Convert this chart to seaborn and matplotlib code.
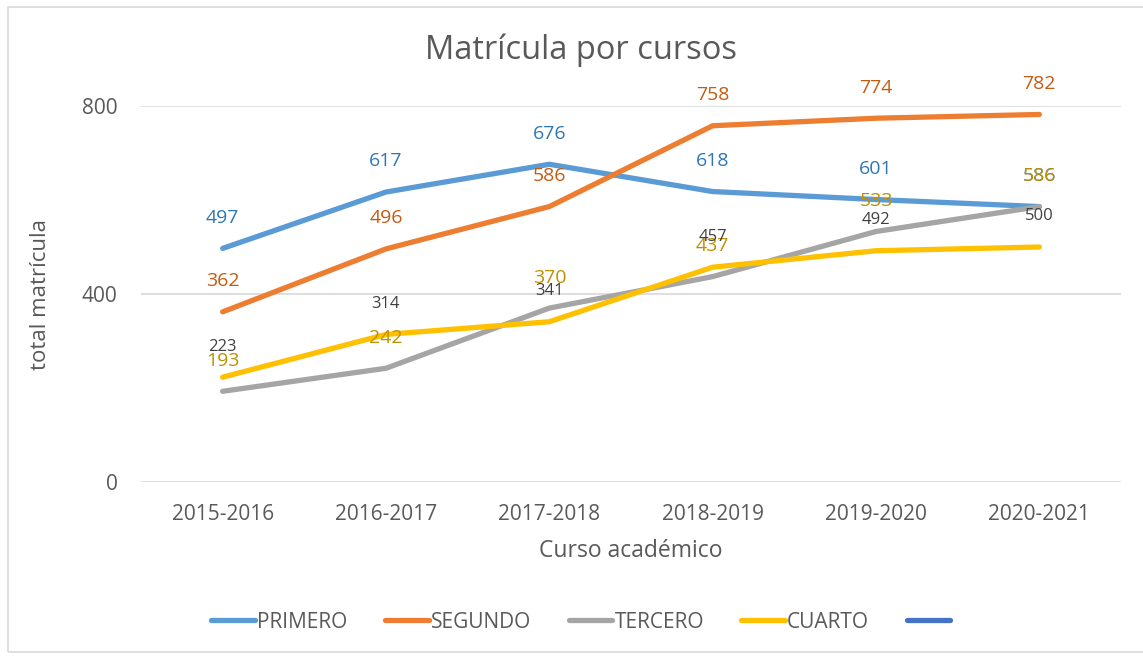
import matplotlib
matplotlib.use("Agg")
import matplotlib.pyplot as plt
from matplotlib.lines import Line2D
from matplotlib.patches import Rectangle
import pandas as pd
import seaborn as sns

cursos = ["2015-2016", "2016-2017", "2017-2018", "2018-2019", "2019-2020", "2020-2021"]
primero = [497, 617, 676, 618, 601, 586]
segundo = [362, 496, 586, 758, 774, 782]
tercero = [193, 242, 370, 437, 533, 586]
cuarto = [223, 314, 341, 457, 492, 500]

series = ["PRIMERO", "SEGUNDO", "TERCERO", "CUARTO"]
line_colors = ["#5B9BD5", "#ED7D31", "#A5A5A5", "#FFC000"]
label_colors = ["#2E75B6", "#C55A11", "#BF9000", "#404040"]
label_sizes = [14, 14, 14, 12]

df = pd.DataFrame({
    "curso": cursos * 4,
    "serie": [s for s in series for _ in cursos],
    "matricula": primero + segundo + tercero + cuarto,
})
df["pos"] = df["curso"].map({c: i for i, c in enumerate(cursos)})

sns.set_theme(style="white")
plt.rcParams["font.family"] = ["Open Sans", "DejaVu Sans"]

fig = plt.figure(figsize=(11.43, 6.57), dpi=100)
ax = fig.add_axes([141 / 1143, 1 - 482 / 657, 980 / 1143, 376 / 657])

fig.patches.append(Rectangle((8 / 1143, 1 - 652 / 657), 1.2, 645 / 657,
                             transform=fig.transFigure, fill=False,
                             edgecolor="#D9D9D9", linewidth=1.2, zorder=0))

sns.lineplot(data=df, x="pos", y="matricula", hue="serie", hue_order=series,
             palette=line_colors, linewidth=3.8, sort=False, legend=False, ax=ax)
for line in ax.lines:
    line.set_solid_capstyle("round")
    line.set_solid_joinstyle("round")

for s, lc, fs in zip(series, label_colors, label_sizes):
    sub = df[df["serie"] == s]
    for x, y in zip(sub["pos"], sub["matricula"]):
        ax.annotate(str(y), (x, y), xytext=(0, 22), textcoords="offset points",
                    ha="center", va="center", color=lc, fontsize=fs, zorder=5)

ax.set_xlim(-0.5, 5.5)
ax.set_ylim(0, 800)
ax.set_yticks([0, 400, 800])
ax.set_xticks(range(len(cursos)))
ax.set_xticklabels(cursos)
ax.yaxis.grid(True, color="#D9D9D9", linewidth=1.2)
ax.set_axisbelow(True)
for sp in ax.spines.values():
    sp.set_visible(False)
ax.tick_params(axis="both", length=0, labelsize=15, colors="#595959")
ax.tick_params(axis="x", pad=16)
ax.tick_params(axis="y", pad=17)

ax.set_xlabel("Curso académico", fontsize=16.5, color="#595959", labelpad=10)
ax.set_ylabel("total matrícula", fontsize=16, color="#595959", labelpad=22)
fig.text(581 / 1143, 1 - 50 / 657, "Matrícula por cursos", ha="center", va="center",
         fontsize=23.5, color="#595959")

handles = [Line2D([], [], color=c, linewidth=3.8, solid_capstyle="round") for c in line_colors]
handles.append(Line2D([], [], color="#4472C4", linewidth=3.8, solid_capstyle="round"))
fig.legend(handles, series + [""], loc="center", bbox_to_anchor=(582 / 1143, 1 - 622 / 657),
           ncol=5, frameon=False, fontsize=15, labelcolor="#595959",
           handlelength=2.1, handletextpad=0.1, columnspacing=1.8)

fig.savefig("out.png", dpi=100)
